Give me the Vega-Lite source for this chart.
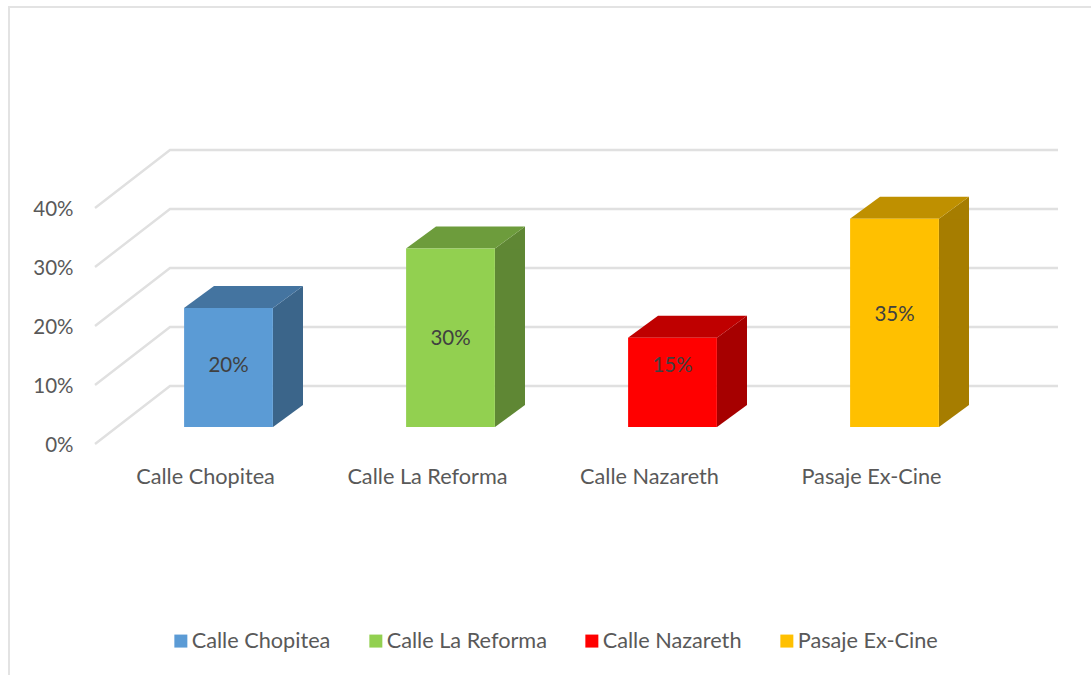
{
"$schema":"https://vega.github.io/schema/vega-lite/v6.json",
"width":1082,"height":668,
"autosize":{"type":"none"},
"padding":{"left":9,"top":7,"right":0,"bottom":0},
"background":"white",
"config":{"view":{"stroke":null},"font":"Lato"},
"data":{"values":[
{"lugar":"Calle Chopitea","porcentaje":0.20},
{"lugar":"Calle La Reforma","porcentaje":0.30},
{"lugar":"Calle Nazareth","porcentaje":0.15},
{"lugar":"Pasaje Ex-Cine","porcentaje":0.35}
]},
"encoding":{
"x":{"field":"lugar","type":"nominal",
"scale":{"domain":["Calle Chopitea","Calle La Reforma","Calle Nazareth","Pasaje Ex-Cine"],"range":[108.5,996.5],"paddingInner":0.6,"paddingOuter":0.3},
"axis":{"title":null,"labelAngle":0,"domain":false,"ticks":false,"grid":false,"offset":-199,"labelPadding":0,"labelBaseline":"middle","labelOffset":-23,"labelFont":"Lato","labelFontSize":21.7,"labelColor":"#595959"}}
},
"layer":[
{
"data":{"values":[{"frame":"borde"}]},
"mark":{"type":"point","shape":"M-219.5,668L-219.5,0L870,0","size":4,"filled":false,"stroke":"#e3e3e3","strokeWidth":2,"opacity":1},
"encoding":{
"x":{"datum":"Calle Chopitea","type":"nominal"},
"y":{"datum":0.739,"type":"quantitative","scale":{"domain":[0,0.739],"range":[436,0],"nice":false},"axis":null}
}
},
{
"data":{"values":[{"tick":0},{"tick":0.1},{"tick":0.2},{"tick":0.3},{"tick":0.4}]},
"mark":{"type":"point","shape":"M-133.5,1L-58.5,-57L829.5,-57","size":4,"filled":false,"stroke":"#e0e0e0","strokeWidth":2.4,"opacity":1},
"encoding":{
"x":{"datum":"Calle Chopitea","type":"nominal"},
"y":{"field":"tick","type":"quantitative","scale":{"domain":[0,0.739],"range":[436,0],"nice":false},
"axis":{"title":null,"values":[0,0.1,0.2,0.3,0.4],"format":".0%","domain":false,"ticks":false,"grid":false,"labelPadding":-64,"labelOffset":2,"labelFont":"Lato","labelFontSize":20.5,"labelColor":"#595959"}}
}
},
{
"mark":{"type":"bar","size":30,"xOffset":59.5,"y2Offset":-22},
"encoding":{
"y":{"field":"porcentaje","type":"quantitative","scale":{"domain":[0,0.70588],"range":[420,0],"nice":false},"axis":null},
"y2":{"datum":0},
"fill":{"field":"lugar","type":"nominal","legend":null,"scale":{"domain":["Calle Chopitea","Calle La Reforma","Calle Nazareth","Pasaje Ex-Cine"],"range":["#3B658A","#5F8734","#A60000","#A67D00"]}}
}
},
{
"mark":{"type":"point","shape":"M44.5,1L44.5,0L74.5,-22L74.5,1Z","size":4,"filled":true,"opacity":1,"strokeWidth":0},
"encoding":{
"y":{"field":"porcentaje","type":"quantitative","scale":{"domain":[0,0.70588],"range":[420,0],"nice":false},"axis":null},
"fill":{"field":"lugar","type":"nominal","legend":null,"scale":{"domain":["Calle Chopitea","Calle La Reforma","Calle Nazareth","Pasaje Ex-Cine"],"range":["#3B658A","#5F8734","#A60000","#A67D00"]}}
}
},
{
"mark":{"type":"point","shape":"M44.5,0L44.5,-23L74.5,-23L74.5,-22Z","size":4,"filled":true,"opacity":1,"strokeWidth":0},
"encoding":{
"y":{"datum":0,"type":"quantitative","scale":{"domain":[0,0.70588],"range":[420,0],"nice":false},"axis":null},
"fill":{"field":"lugar","type":"nominal","legend":null,"scale":{"domain":["Calle Chopitea","Calle La Reforma","Calle Nazareth","Pasaje Ex-Cine"],"range":["#3B658A","#5F8734","#A60000","#A67D00"]}}
}
},
{
"mark":{"type":"point","shape":"M-44.5,0L-14.5,-22L74.5,-22L44.5,0Z","size":4,"filled":true,"opacity":1,"strokeWidth":0},
"encoding":{
"y":{"field":"porcentaje","type":"quantitative","scale":{"domain":[0,0.70588],"range":[420,0],"nice":false},"axis":null},
"fill":{"field":"lugar","type":"nominal","legend":null,"scale":{"domain":["Calle Chopitea","Calle La Reforma","Calle Nazareth","Pasaje Ex-Cine"],"range":["#4474A0","#6D9C3C","#BF0000","#BF9000"]}}
}
},
{
"mark":{"type":"bar"},
"encoding":{
"y":{"field":"porcentaje","type":"quantitative","scale":{"domain":[0,0.70588],"range":[420,0],"nice":false},"axis":null},
"color":{"field":"lugar","type":"nominal","title":null,
"scale":{"domain":["Calle Chopitea","Calle La Reforma","Calle Nazareth","Pasaje Ex-Cine"],"range":["#5B9BD5","#92D050","#FF0000","#FFC000"]},
"legend":{"orient":"none","legendX":161,"legendY":623,"direction":"horizontal","columns":4,"symbolType":"square","symbolSize":169,"symbolStrokeWidth":0,"symbolOpacity":1,"columnPadding":34,"labelFont":"Lato","labelFontSize":21.7,"labelColor":"#595959","labelOffset":0,"labelLimit":300}}
}
},
{
"mark":{"type":"text","font":"Lato","fontSize":20.5,"color":"#404040","baseline":"middle","align":"center"},
"encoding":{
"y":{"field":"porcentaje","type":"quantitative","scale":{"domain":[0.15,0.2,0.3,0.35],"range":[359,359,332,308],"nice":false},"axis":null},
"text":{"field":"porcentaje","type":"quantitative","format":".0%"}
}
}
],
"resolve":{"scale":{"y":"independent","fill":"independent"}}
}
